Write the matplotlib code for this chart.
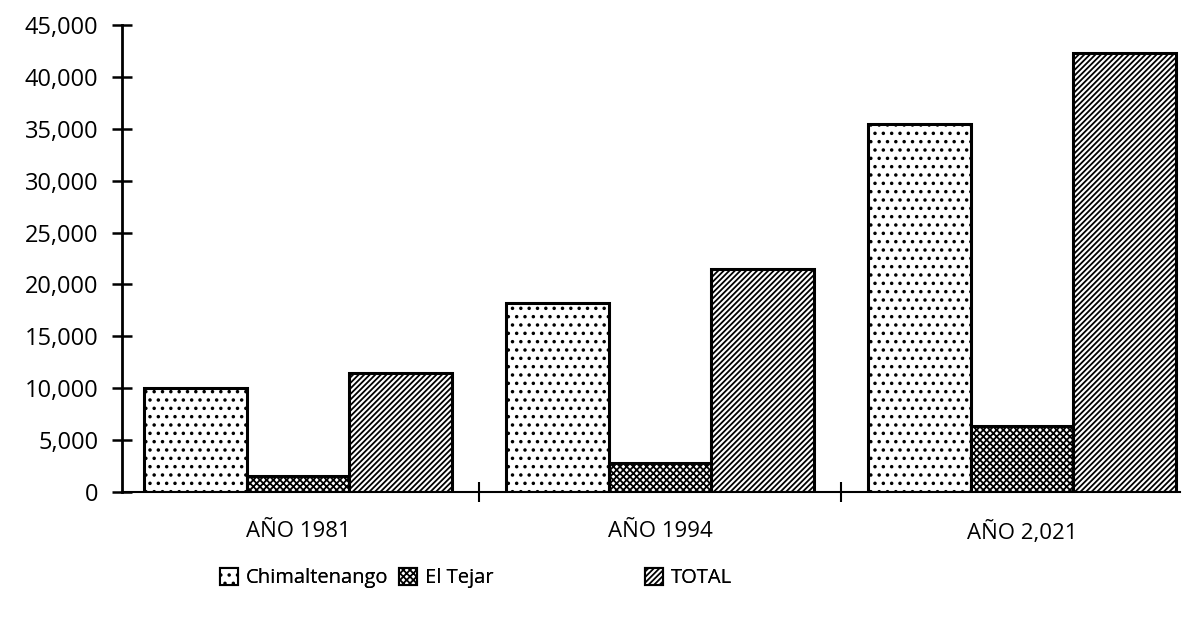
import matplotlib
matplotlib.use("Agg")
import matplotlib.pyplot as plt
import numpy as np
from matplotlib.patches import Patch

categories = ["AÑO 1981", "AÑO 1994", "AÑO 2,021"]
series_names = ["Chimaltenango", "El Tejar", "TOTAL"]
chimaltenango = [10000, 18200, 35500]
el_tejar = [1500, 2800, 6400]
total = [11500, 21500, 42300]
yticks = [0, 5000, 10000, 15000, 20000, 25000, 30000, 35000, 40000, 45000]
ytick_labels = ["0", "5,000", "10,000", "15,000", "20,000", "25,000",
                "30,000", "35,000", "40,000", "45,000"]

plt.rcParams['font.family'] = ['Open Sans', 'DejaVu Sans']
plt.rcParams['hatch.linewidth'] = 1.3

fig = plt.figure(figsize=(11.89, 6.18), dpi=100)
ax = fig.add_axes([122/1189, 126/618, (1180-122)/1189, (492-25)/618])

x = np.arange(len(categories))
w = 0.283
hatches = ['..', 'xxxxx', '//////']
data = [chimaltenango, el_tejar, total]
for i, (vals, h) in enumerate(zip(data, hatches)):
    ax.bar(x + (i-1)*w, vals, w, facecolor='white', edgecolor='black',
           hatch=h, linewidth=2.2, label=series_names[i])

ax.set_xlim(-0.486, 2.436)
ax.set_ylim(0, 45000)
ax.set_yticks(yticks)
ax.set_yticklabels(ytick_labels, fontsize=17)
ax.tick_params(axis='y', direction='inout', length=14, width=1.8, pad=10)
ax.set_xticks(x)
ax.set_xticklabels(categories, fontsize=16)
ax.tick_params(axis='x', which='major', length=0, pad=21)
ax.set_xticks([0.5, 1.5], minor=True)
ax.tick_params(axis='x', which='minor', direction='inout', length=14, width=1.5)
for s in ['top', 'right']:
    ax.spines[s].set_visible(False)
ax.spines['left'].set_linewidth(2)
ax.spines['bottom'].set_linewidth(1.5)

positions = [(220, 578), (399, 578), (645, 578)]
for i, (px, py) in enumerate(positions):
    handle = Patch(facecolor='white', edgecolor='black', hatch=hatches[i], linewidth=1.5)
    leg = fig.legend([handle], [series_names[i]], loc='center left',
                     bbox_to_anchor=(px/1189, 1 - py/618), frameon=False,
                     fontsize=14.5, handlelength=0.9, handleheight=0.9,
                     handletextpad=0.4, borderpad=0, borderaxespad=0)
    fig.add_artist(leg)

fig.savefig("out.png", dpi=100)
